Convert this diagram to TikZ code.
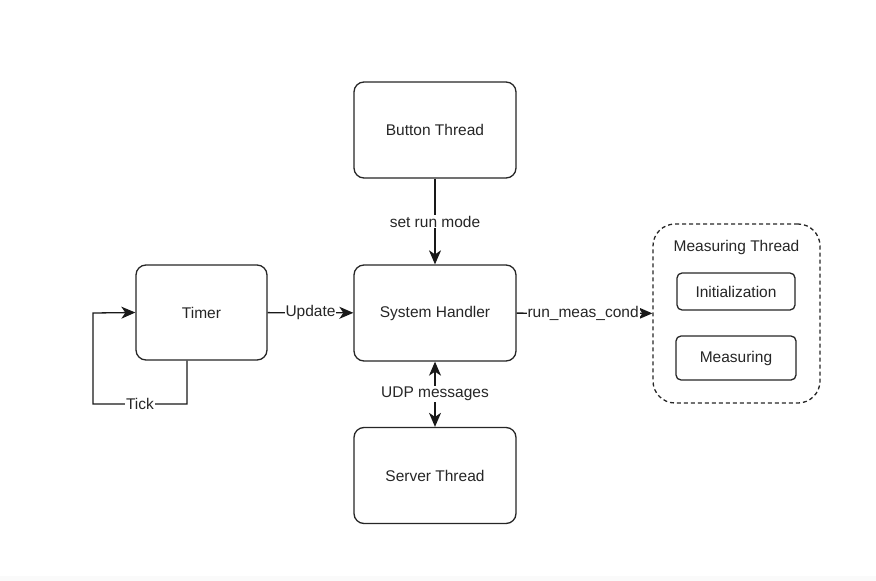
\documentclass[tikz,border=0pt]{standalone}
\usepackage{fontspec}
\setmainfont{Liberation Sans}
\usetikzlibrary{arrows.meta}
\begin{document}
\begin{tikzpicture}[x=1pt,y=-1pt,
  box/.style={draw=black!85, line width=1.3pt, rounded corners=10pt, fill=white, text=black!85, font=\fontsize{15.5}{18}\selectfont},
  smallbox/.style={draw=black!85, line width=1.3pt, rounded corners=5pt, fill=white, text=black!85, font=\fontsize{15.5}{18}\selectfont},
  conn/.style={line width=1.3pt, draw=black!90, arrows={-Stealth[length=14pt,width=12pt,inset=4pt]}},
  lbl/.style={fill=white, inner sep=1pt, text=black!85, font=\fontsize{15.5}{18}\selectfont}]
\useasboundingbox (0,0) rectangle (876,581);
\fill[black!2] (0,576) rectangle (876,581);
% nodes
\node[box, minimum width=162pt, minimum height=96pt] (button) at (435,130) {Button Thread};
\node[box, minimum width=162pt, minimum height=96pt] (sys) at (435,313) {System Handler};
\node[box, minimum width=162pt, minimum height=96pt] (server) at (435,475.5) {Server Thread};
\node[box, minimum width=131pt, minimum height=95pt] (timer) at (201.5,312.5) {Timer};
\node[draw=black!85, line width=1.3pt, dash pattern=on 4pt off 3pt, rounded corners=22pt, minimum width=167pt, minimum height=179pt] (meas) at (736.5,313.5) {};
\node[font=\fontsize{15.5}{18}\selectfont, text=black!85] (meastitle) at (736.5,247) {Measuring Thread};
\node[smallbox, minimum width=118pt, minimum height=37pt] (init) at (736,291.5) {Initialization};
\node[smallbox, minimum width=120pt, minimum height=44pt] (measuring) at (736,358) {Measuring};
% connectors
\draw[conn] (button) -- node[lbl] {set run mode} (sys);
\draw[conn, arrows={Stealth[length=14pt,width=12pt,inset=4pt]-Stealth[length=14pt,width=12pt,inset=4pt]}] (sys) -- node[lbl] {UDP messages} (server);
\draw[conn] (timer) -- node[lbl] {Update} (sys);
\draw[conn] (sys) -- node[lbl, pos=0.49] {run\_meas\_cond} (meas);
\coordinate (t1) at (187,404);
\coordinate (t2) at (93,404);
\coordinate (t3) at (93,313);
\draw[conn] (timer.south -| t1) -- (t1) -- node[lbl] {Tick} (t2) -- (t3) -- (timer.west);
\end{tikzpicture}
\end{document}
